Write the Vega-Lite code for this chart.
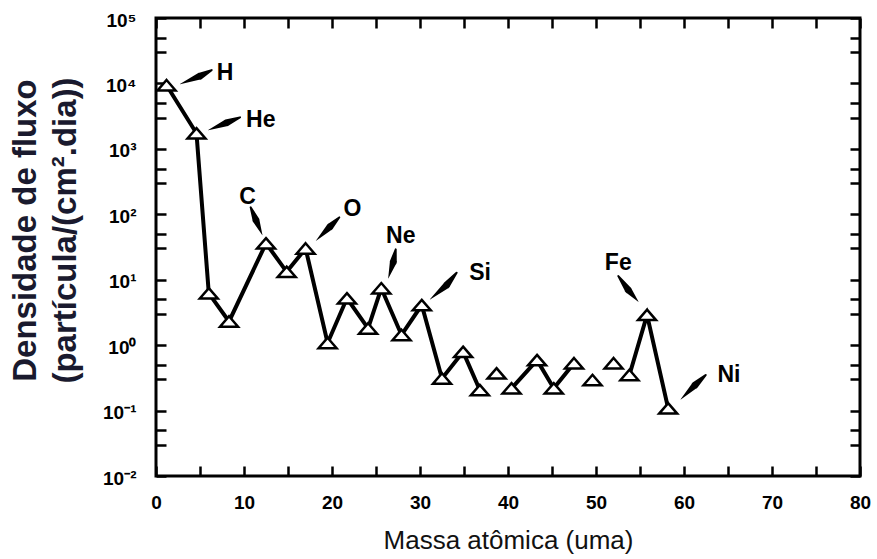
{
  "$schema": "https://vega.github.io/schema/vega-lite/v6.json",
  "width": 704,
  "height": 458,
  "autosize": {"type": "none"},
  "padding": {"left": 156, "top": 18, "right": 17, "bottom": 83},
  "background": "white",
  "config": {"view": {"stroke": "black", "strokeWidth": 3}},
  "datasets": {
    "flux": [
      {"A": 1.2, "flux": 9400, "seg": 1},
      {"A": 4.6, "flux": 1730, "seg": 1},
      {"A": 6.0, "flux": 6.2, "seg": 1},
      {"A": 8.3, "flux": 2.3, "seg": 1},
      {"A": 12.5, "flux": 36, "seg": 1},
      {"A": 14.85, "flux": 13.2, "seg": 1},
      {"A": 17.0, "flux": 30, "seg": 1},
      {"A": 19.5, "flux": 1.08, "seg": 1},
      {"A": 21.7, "flux": 5.2, "seg": 1},
      {"A": 24.1, "flux": 1.8, "seg": 1},
      {"A": 25.6, "flux": 7.4, "seg": 1},
      {"A": 27.9, "flux": 1.43, "seg": 1},
      {"A": 30.2, "flux": 4.1, "seg": 1},
      {"A": 32.5, "flux": 0.31, "seg": 1},
      {"A": 34.9, "flux": 0.79, "seg": 1},
      {"A": 36.8, "flux": 0.206, "seg": 1},
      {"A": 38.7, "flux": 0.37, "seg": 2},
      {"A": 40.4, "flux": 0.219, "seg": 3},
      {"A": 43.3, "flux": 0.59, "seg": 3},
      {"A": 45.2, "flux": 0.219, "seg": 3},
      {"A": 47.5, "flux": 0.53, "seg": 3},
      {"A": 49.6, "flux": 0.293, "seg": 4},
      {"A": 52.0, "flux": 0.53, "seg": 5},
      {"A": 53.8, "flux": 0.35, "seg": 6},
      {"A": 55.8, "flux": 2.9, "seg": 6},
      {"A": 58.2, "flux": 0.108, "seg": 6}
    ],
    "arrows": [
      {"el": "H", "k": 0, "x": 6.33, "y": 16030},
      {"el": "H", "k": 1, "x": 5.0, "y": 12970},
      {"el": "H", "k": 2, "x": 2.73, "y": 9770},
      {"el": "He", "k": 0, "x": 9.55, "y": 3030},
      {"el": "He", "k": 1, "x": 8.03, "y": 2506},
      {"el": "He", "k": 2, "x": 5.94, "y": 1940},
      {"el": "C", "k": 0, "x": 10.76, "y": 127.7},
      {"el": "C", "k": 1, "x": 11.36, "y": 81.7},
      {"el": "C", "k": 2, "x": 12.08, "y": 48.2},
      {"el": "O", "k": 0, "x": 20.83, "y": 89.8},
      {"el": "O", "k": 1, "x": 19.77, "y": 64.5},
      {"el": "O", "k": 2, "x": 18.18, "y": 39.4},
      {"el": "Ne", "k": 0, "x": 27.24, "y": 29.1},
      {"el": "Ne", "k": 1, "x": 26.97, "y": 18.8},
      {"el": "Ne", "k": 2, "x": 26.4, "y": 10.5},
      {"el": "Si", "k": 0, "x": 34.17, "y": 12.8},
      {"el": "Si", "k": 1, "x": 33.03, "y": 8.29},
      {"el": "Si", "k": 2, "x": 31.14, "y": 5.01},
      {"el": "Fe", "k": 0, "x": 52.53, "y": 11.38},
      {"el": "Fe", "k": 1, "x": 53.67, "y": 6.95},
      {"el": "Fe", "k": 2, "x": 54.81, "y": 4.61},
      {"el": "Ni", "k": 0, "x": 62.47, "y": 0.349},
      {"el": "Ni", "k": 1, "x": 61.25, "y": 0.245},
      {"el": "Ni", "k": 2, "x": 59.63, "y": 0.1485}
    ],
    "labels": [
      {"el": "H", "x": 7.84, "y": 14420},
      {"el": "He", "x": 11.9, "y": 2767},
      {"el": "C", "x": 10.4, "y": 185.4},
      {"el": "O", "x": 22.33, "y": 120.2},
      {"el": "Ne", "x": 27.82, "y": 46.8},
      {"el": "Si", "x": 36.82, "y": 12.5},
      {"el": "Fe", "x": 52.53, "y": 18.3},
      {"el": "Ni", "x": 65.11, "y": 0.349}
    ]
  },
  "layer": [
    {
      "data": {"name": "flux"},
      "mark": {"type": "line", "color": "black", "strokeWidth": 4, "strokeJoin": "miter"},
      "encoding": {
        "x": {
          "field": "A", "type": "quantitative",
          "scale": {"domain": [0, 80], "nice": false, "zero": false},
          "axis": {
            "orient": "bottom",
            "values": [0,2.5,5,7.5,10,12.5,15,17.5,20,22.5,25,27.5,30,32.5,35,37.5,40,42.5,45,47.5,50,52.5,55,57.5,60,62.5,65,67.5,70,72.5,75,77.5,80],
            "labelExpr": "datum.value % 10 == 0 ? format(datum.value, 'd') : ''",
            "domain": false, "ticks": false,
            "grid": true, "gridColor": "black", "gridOpacity": 1, "gridWidth": 2.5,
            "gridDash": [10, 438, 10, 1000],
            "labelFont": "Liberation Sans", "labelFontWeight": "bold", "labelFontSize": 19, "labelColor": "black",
            "labelPadding": 17, "labelOverlap": false, "labelFlush": false,
            "title": "Massa atômica (uma)",
            "titleFont": "Liberation Sans", "titleFontWeight": "normal", "titleFontSize": 26, "titleColor": "#111111",
            "titleX": 352, "titleY": 72, "titleBaseline": "alphabetic", "titleAlign": "center"
          }
        },
        "y": {
          "field": "flux", "type": "quantitative",
          "scale": {"type": "log", "domain": [0.01, 100000], "nice": false},
          "axis": {
            "orient": "left",
            "values": [0.01,0.03,0.05,0.1,0.3,0.5,1,3,5,10,30,50,100,300,500,1000,3000,5000,10000,30000,50000,100000],
            "labelExpr": "datum.value == 0.01 ? '10⁻²' : datum.value == 0.1 ? '10⁻¹' : datum.value == 1 ? '10⁰' : datum.value == 10 ? '10¹' : datum.value == 100 ? '10²' : datum.value == 1000 ? '10³' : datum.value == 10000 ? '10⁴' : datum.value == 100000 ? '10⁵' : ''",
            "domain": false, "ticks": false,
            "grid": true, "gridColor": "black", "gridOpacity": 1, "gridWidth": 2.5,
            "gridDash": [10, 684, 10, 1000],
            "labelFont": "Liberation Sans", "labelFontWeight": "bold", "labelFontSize": 19, "labelColor": "black",
            "labelPadding": 20, "labelOverlap": false, "labelFlush": false, "labelOffset": 2,
            "title": ["Densidade de fluxo", "(partícula/(cm².dia))"],
            "titleFont": "Liberation Sans", "titleFontWeight": "bold", "titleFontSize": 33, "titleColor": "#1a1a2e",
            "titleAngle": -90, "titleAlign": "center", "titleBaseline": "alphabetic",
            "titleX": -121, "titleY": 212, "titleLineHeight": 40
          }
        },
        "detail": {"field": "seg", "type": "nominal"}
      }
    },
    {
      "data": {"name": "flux"},
      "mark": {"type": "point", "shape": "M0,-0.58L1,0.58L-1,0.58Z", "size": 324, "filled": true, "fill": "white", "stroke": "black", "strokeWidth": 2.5, "opacity": 1},
      "encoding": {
        "x": {"field": "A", "type": "quantitative", "scale": {"domain": [0, 80], "nice": false, "zero": false}},
        "y": {"field": "flux", "type": "quantitative", "scale": {"type": "log", "domain": [0.01, 100000], "nice": false}}
      }
    },
    {
      "data": {"name": "arrows"},
      "mark": {"type": "trail", "color": "black"},
      "encoding": {
        "x": {"field": "x", "type": "quantitative", "scale": {"domain": [0, 80], "nice": false, "zero": false}},
        "y": {"field": "y", "type": "quantitative", "scale": {"type": "log", "domain": [0.01, 100000], "nice": false}},
        "detail": {"field": "el", "type": "nominal"},
        "order": {"field": "k", "type": "quantitative"},
        "size": {"field": "k", "type": "quantitative", "scale": {"type": "linear", "domain": [0, 1, 2], "range": [2, 7, 0.3], "zero": false}, "legend": null}
      }
    },
    {
      "data": {"name": "labels"},
      "mark": {"type": "text", "font": "Liberation Sans", "fontWeight": "bold", "fontSize": 23, "align": "center", "baseline": "middle", "color": "black"},
      "encoding": {
        "x": {"field": "x", "type": "quantitative", "scale": {"domain": [0, 80], "nice": false, "zero": false}},
        "y": {"field": "y", "type": "quantitative", "scale": {"type": "log", "domain": [0.01, 100000], "nice": false}},
        "text": {"field": "el", "type": "nominal"}
      }
    }
  ]
}
